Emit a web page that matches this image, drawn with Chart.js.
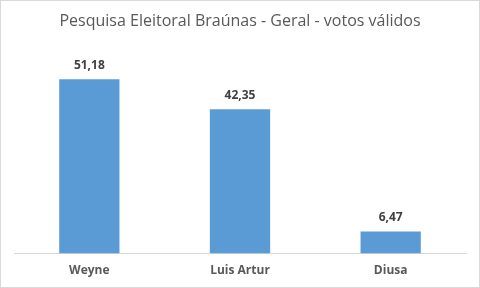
<!DOCTYPE html>
<html>
<head>
<meta charset="utf-8">
<script src="https://cdn.jsdelivr.net/npm/chart.js@4/dist/chart.umd.min.js"></script>
<style>
  html, body { margin: 0; padding: 0; background: #fff; }
  #wrap { width: 480px; height: 288px; }
</style>
</head>
<body>
<div id="wrap"><canvas id="chart" width="480" height="288"></canvas></div>
<script>
// -----------------------------
// Data
// -----------------------------
const candidates = ["Weyne", "Luis Artur", "Diusa"];
const votes = [51.18, 42.35, 6.47];
const axisMax = 60;

const fontFamily = "'Open Sans', 'Noto Sans', sans-serif";

// border round the whole picture
const frame = {
  id: "frame",
  beforeDraw(chart) {
    const ctx = chart.ctx;
    ctx.save();
    ctx.fillStyle = "#fff";
    ctx.fillRect(0, 0, chart.width, chart.height);
    ctx.strokeStyle = "#d9d9d9";
    ctx.lineWidth = 1;
    ctx.strokeRect(0.5, 0.5, chart.width - 1, chart.height - 1);
    ctx.restore();
  }
};

// value labels above the bars
const valueLabels = {
  id: "valueLabels",
  afterDatasetsDraw(chart) {
    const ctx = chart.ctx;
    const meta = chart.getDatasetMeta(0);
    ctx.save();
    ctx.font = "bold 12px " + fontFamily;
    ctx.fillStyle = "#404040";
    ctx.textAlign = "center";
    ctx.textBaseline = "middle";
    meta.data.forEach((bar, i) => {
      const text = votes[i].toFixed(2).replace(".", ",");
      ctx.fillText(text, bar.x, bar.y - 14);
    });
    ctx.restore();
  }
};

const ctx = document.getElementById("chart").getContext("2d");
const chart = new Chart(ctx, {
  type: "bar",
  data: {
    labels: candidates,
    datasets: [{
      data: votes,
      backgroundColor: "#5b9bd5",
      borderWidth: 0,
      barPercentage: 0.4,
      categoryPercentage: 1
    }]
  },
  options: {
    responsive: false,
    animation: false,
    layout: {
      padding: { left: 14, right: 14, bottom: 0 }
    },
    plugins: {
      legend: { display: false },
      tooltip: { enabled: false },
      title: {
        display: true,
        text: "Pesquisa Eleitoral Braúnas - Geral - votos válidos",
        color: "#595959",
        font: { family: fontFamily, size: 16, weight: "normal" },
        padding: { top: 12, bottom: 18 }
      }
    },
    scales: {
      y: {
        display: false,
        min: 0,
        max: axisMax
      },
      x: {
        grid: { display: false, drawTicks: false },
        border: { display: true, color: "#d9d9d9" },
        ticks: {
          color: "#595959",
          padding: 10,
          font: { family: fontFamily, size: 12, weight: "bold" }
        }
      }
    }
  },
  plugins: [frame, valueLabels]
});
</script>
</body>
</html>
